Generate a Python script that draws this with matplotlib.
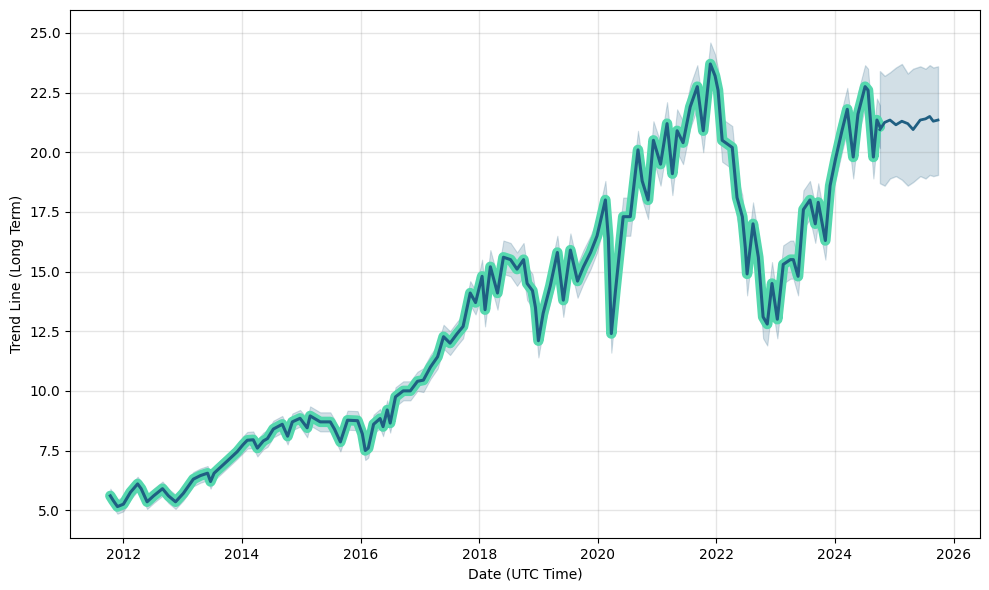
import numpy as np
import pandas as pd
import matplotlib
matplotlib.use('Agg')
import matplotlib.pyplot as plt
import matplotlib.dates as mdates

# history: decimal year and value
hist_years = [2011.78, 2011.83, 2011.90, 2012.00, 2012.12, 2012.24, 2012.30, 2012.40, 2012.51, 2012.66,
              2012.76, 2012.88, 2013.01, 2013.18, 2013.30, 2013.42, 2013.47, 2013.53, 2013.64, 2013.77,
              2013.92, 2014.02, 2014.09, 2014.19, 2014.26, 2014.36, 2014.43, 2014.53, 2014.68, 2014.77,
              2014.85, 2014.98, 2015.10, 2015.15, 2015.32, 2015.49, 2015.56, 2015.66, 2015.78, 2015.95,
              2016.03, 2016.08, 2016.13, 2016.22, 2016.33, 2016.38, 2016.45, 2016.50, 2016.59, 2016.72,
              2016.84, 2016.96, 2017.06, 2017.18, 2017.30, 2017.40, 2017.51, 2017.63, 2017.73, 2017.85,
              2017.94, 2018.05, 2018.10, 2018.19, 2018.31, 2018.41, 2018.53, 2018.64, 2018.75, 2018.81,
              2018.90, 2018.95, 2019.00, 2019.08, 2019.20, 2019.32, 2019.42, 2019.54, 2019.66, 2019.76,
              2019.88, 2019.99, 2020.13, 2020.18, 2020.23, 2020.30, 2020.43, 2020.55, 2020.68, 2020.75,
              2020.85, 2020.94, 2021.06, 2021.17, 2021.26, 2021.34, 2021.44, 2021.56, 2021.68, 2021.78,
              2021.90, 2021.98, 2022.03, 2022.10, 2022.27, 2022.35, 2022.44, 2022.49, 2022.52, 2022.62,
              2022.71, 2022.79, 2022.86, 2022.94, 2023.03, 2023.13, 2023.25, 2023.30, 2023.38, 2023.47,
              2023.58, 2023.67, 2023.72, 2023.84, 2023.92, 2024.01, 2024.12, 2024.21, 2024.31, 2024.39,
              2024.51, 2024.56, 2024.65, 2024.71, 2024.76]
hist_vals = [5.6, 5.4, 5.15, 5.25, 5.75, 6.1, 5.9, 5.35, 5.6, 5.9,
             5.6, 5.35, 5.7, 6.3, 6.45, 6.55, 6.2, 6.55, 6.8, 7.1,
             7.45, 7.75, 7.93, 7.95, 7.6, 7.9, 8.0, 8.4, 8.6, 8.1,
             8.7, 8.85, 8.45, 8.95, 8.7, 8.7, 8.4, 7.86, 8.77, 8.75,
             8.2, 7.5, 7.6, 8.6, 8.84, 8.5, 9.2, 8.65, 9.75, 10.0,
             10.0, 10.4, 10.45, 11.0, 11.43, 12.27, 12.0, 12.4, 12.7, 14.1,
             13.7, 14.8, 13.4, 15.2, 14.1, 15.6, 15.5, 15.1, 15.5, 14.5,
             14.2, 13.5, 12.1, 13.25, 14.4, 15.8, 13.8, 15.9, 14.6, 15.2,
             15.8, 16.5, 18.0, 16.4, 12.4, 14.2, 17.3, 17.3, 20.1, 18.8,
             18.0, 20.5, 19.5, 21.2, 19.1, 20.9, 20.4, 21.9, 22.75, 20.9,
             23.7, 23.2, 22.6, 20.5, 20.2, 18.1, 17.3, 16.0, 14.9, 17.0,
             15.6, 13.1, 12.8, 14.5, 13.0, 15.3, 15.5, 15.5, 14.8, 17.6,
             18.0, 17.0, 17.9, 16.3, 18.6, 19.7, 20.9, 21.8, 19.8, 21.6,
             22.75, 22.6, 19.8, 21.35, 21.07]

# half width of the uncertainty band per calendar year
band_years = [2011, 2012, 2013, 2014, 2015, 2016, 2017, 2018, 2019, 2020, 2021, 2022, 2023, 2024]
band_half = [0.3, 0.3, 0.3, 0.35, 0.4, 0.4, 0.5, 0.7, 0.7, 0.8, 0.9, 0.9, 0.8, 0.9]

# forecast
fc_years = [2024.76, 2024.84, 2024.93, 2025.03, 2025.13, 2025.23, 2025.32, 2025.44, 2025.53, 2025.60, 2025.66, 2025.74]
fc_vals = [20.95, 21.25, 21.35, 21.15, 21.3, 21.2, 20.95, 21.35, 21.4, 21.5, 21.3, 21.35]
fc_upper = [23.4, 23.2, 23.35, 23.55, 23.7, 23.3, 23.5, 23.6, 23.5, 23.65, 23.55, 23.6]
fc_lower = [18.7, 18.6, 18.9, 19.0, 18.85, 18.6, 18.75, 19.0, 18.9, 19.05, 19.0, 19.05]


def to_dates(yrs):
    yrs = np.asarray(yrs)
    return pd.to_datetime('2012-01-01') + pd.to_timedelta((yrs - 2012) * 365.25, unit='D')


hx = to_dates(hist_years)
hv = np.array(hist_vals)
half = dict(zip(band_years, band_half))
hw = np.array([half[int(y)] for y in hist_years])
fx = to_dates(fc_years)

dark = '#1f5f82'
teal = '#55d8ae'

fig, ax = plt.subplots(figsize=(9.89, 5.9), dpi=100)
fig.subplots_adjust(left=0.0708, right=0.991, top=0.983, bottom=0.088)

ax.fill_between(hx, hv - hw, hv + hw, color=dark, alpha=0.2, lw=0.8)
ax.fill_between(fx, fc_lower, fc_upper, color=dark, alpha=0.2, lw=1)
ax.plot(hx, hv, color=teal, lw=7.5, solid_joinstyle='round', solid_capstyle='round')
ax.plot(hx, hv, color=dark, lw=2.2)
ax.plot(fx, fc_vals, color=dark, lw=2)

ax.grid(True, which='major', c='gray', ls='-', lw=1, alpha=0.2)
ax.xaxis.set_major_locator(mdates.YearLocator(2))
ax.xaxis.set_major_formatter(mdates.DateFormatter('%Y'))
ax.set_xlim(to_dates([2011.1])[0], to_dates([2026.45])[0])
ax.set_ylim(3.83, 25.96)
ax.set_yticks(np.arange(5, 25.1, 2.5))
ax.set_xlabel('Date (UTC Time)')
ax.set_ylabel('Trend Line (Long Term)')

fig.savefig('out.png', dpi=100)
